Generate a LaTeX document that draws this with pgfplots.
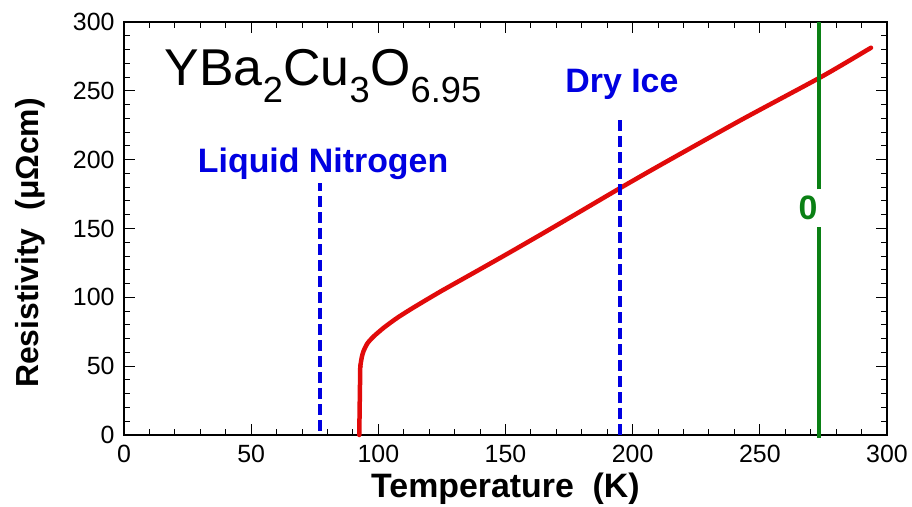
\documentclass[border=0pt]{standalone}
\usepackage{fontspec}
\setmainfont{Liberation Sans}
\usepackage{pgfplots}
\pgfplotsset{compat=1.18}

\definecolor{curvered}{RGB}{225,10,10}
\definecolor{markblue}{RGB}{0,0,225}
\definecolor{markgreen}{RGB}{10,128,20}

\begin{document}
\begin{tikzpicture}
\path[use as bounding box] (-124bp,-72bp) rectangle (788bp,435bp);
\begin{axis}[
  at={(0,0)}, anchor=south west,
  scale only axis, width=763bp, height=413bp,
  xmin=0, xmax=300, ymin=0, ymax=300,
  xtick={0,50,...,300}, ytick={0,50,...,300},
  minor x tick num=4, minor y tick num=4,
  tick align=inside,
  major tick length=11bp, minor tick length=6bp,
  every tick/.style={black, line width=1bp},
  axis line style={line width=2.6bp},
  /pgf/number format/assume math mode=true,
  ticklabel style={font=\fontsize{25}{27}\selectfont},
  xticklabel style={yshift=-7bp},
  yticklabel style={xshift=-6bp},
  xlabel={\textbf{Temperature\ \ (K)}},
  ylabel={\textbf{Resistivity\ \ (μΩcm)}},
  xlabel style={font=\fontsize{34}{36}\selectfont, at={(axis description cs:0.5,-0.131)}, anchor=center},
  ylabel style={font=\fontsize{32}{34}\selectfont, at={(axis description cs:-0.123,0.465)}, anchor=center},
  clip=false,
]
% superconducting transition: resistance drops to zero at Tc
\addplot[curvered, line width=4.5bp, line cap=round] coordinates {
  (92.5,0) (92.7,25) (92.9,50)
};
% normal-state resistivity above Tc
\addplot[curvered, line width=4.5bp, line join=round, line cap=round, smooth, tension=0.4] coordinates {
  (92.9,50) (93.5,56.5) (94.2,61) (95.8,66.8) (98.4,72) (102.4,78.3)
  (107.6,85.3) (114.2,93) (124.7,104.5) (137.7,118) (150.9,131.8)
  (165,146.8) (180,163) (195.4,179.7) (211.2,196.4) (242.6,228.8)
  (274.7,260.7) (293.7,281.3)
};
% liquid nitrogen (77 K) and dry ice (195 K)
\addplot[markblue, line width=3.5bp, dash pattern=on 11bp off 5bp] coordinates {(77,3) (77,183)};
\addplot[markblue, line width=3.5bp, dash pattern=on 11bp off 5bp] coordinates {(195,0) (195,230)};
% ice point, 273 K, broken around its label
\addplot[markgreen, line width=3.8bp] coordinates {(273.15,-2) (273.15,151)};
\addplot[markgreen, line width=3.8bp] coordinates {(273.15,178.5) (273.15,300)};

\node[anchor=base west, font=\fontsize{52}{54}\selectfont, inner sep=0pt]
  at (axis cs:16,254) {YBa\textsubscript{2}Cu\textsubscript{3}O\textsubscript{6.95}};
\node[anchor=base west, font=\fontsize{34}{36}\selectfont\bfseries, text=markblue, inner sep=0pt]
  at (axis cs:29,191) {Liquid Nitrogen};
\node[anchor=base west, font=\fontsize{34}{36}\selectfont\bfseries, text=markblue, inner sep=0pt]
  at (axis cs:173.5,249) {Dry Ice};
\node[anchor=center, font=\fontsize{34}{36}\selectfont\bfseries, text=markgreen, inner sep=0pt]
  at (axis cs:269,165) {0};
\end{axis}
\end{tikzpicture}
\end{document}
